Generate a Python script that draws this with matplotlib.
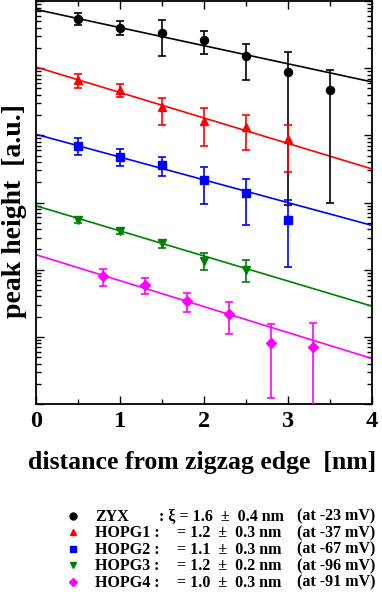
import numpy as np
import matplotlib
matplotlib.use("Agg")
import matplotlib.pyplot as plt
from matplotlib.ticker import LogLocator, NullFormatter, MultipleLocator

# ==========================
# Data
# ==========================

names = ["ZYX", "HOPG1", "HOPG2", "HOPG3", "HOPG4"]
colors = ["black", "red", "blue", "green", "magenta"]
markers = ["o", "^", "s", "v", "D"]

x_zyx = [0.5, 1.0, 1.5, 2.0, 2.5, 3.0, 3.5]
y_zyx = [53700, 40000, 33800, 25900, 15000, 8790, 4700]
hi_zyx = [65900, 49600, 52600, 35300, 23200, 17400, 9310]
lo_zyx = [43300, 30800, 15200, 16500, 6610, 92.5, 98]

x_h1 = [0.5, 1.0, 1.5, 2.0, 2.5, 3.0]
y_h1 = [6770, 4700, 2660, 1650, 1340, 867]
hi_h1 = [8120, 5910, 3610, 2515, 2000, 1420]
lo_h1 = [5150, 3740, 1420, 694, 605, 288]

x_h2 = [0.5, 1.0, 1.5, 2.0, 2.5, 3.0]
y_h2 = [701, 481, 363, 217, 138, 54.4]
hi_h2 = [903, 620, 481, 342, 222, 110]
lo_h2 = [510, 350, 249, 95.7, 46.7, 11.0]

x_h3 = [0.5, 1.0, 1.5, 2.0, 2.5]
y_h3 = [55.4, 38.0, 25.0, 13.6, 10.0]
hi_h3 = [60.3, 41.4, 27.5, 17.8, 14.1]
lo_h3 = [50.0, 34.3, 21.3, 9.8, 6.5]

x_h4 = [0.8, 1.3, 1.8, 2.3, 2.8, 3.3]
y_h4 = [7.98, 5.87, 3.40, 2.21, 0.82, 0.706]
hi_h4 = [10.3, 7.56, 4.42, 3.33, 1.53, 1.62]
lo_h4 = [5.67, 4.27, 2.33, 1.09, 0.121, 0.05]

# exponential fits, value at x=0 and x=4
fit_x = [0, 4]
fit_zyx = [74800, 6240]
fit_h1 = [10400, 316]
fit_h2 = [1035, 45.6]
fit_h3 = [89.3, 2.86]
fit_h4 = [16.7, 0.475]

legend_xi = [": \u03be = 1.6  \u00b1  0.4 nm", "= 1.2  \u00b1  0.3 nm", "= 1.1  \u00b1  0.3 nm",
             "= 1.2  \u00b1  0.2 nm", "= 1.0  \u00b1  0.3 nm"]
legend_bias = ["(at -23 mV)", "(at -37 mV)", "(at -67 mV)", "(at -96 mV)", "(at -91 mV)"]

series = [
    (x_zyx, y_zyx, hi_zyx, lo_zyx, fit_zyx),
    (x_h1, y_h1, hi_h1, lo_h1, fit_h1),
    (x_h2, y_h2, hi_h2, lo_h2, fit_h2),
    (x_h3, y_h3, hi_h3, lo_h3, fit_h3),
    (x_h4, y_h4, hi_h4, lo_h4, fit_h4),
]

# ==========================
# Plot
# ==========================

plt.rcParams['font.family'] = ['Liberation Serif', 'DejaVu Serif']
plt.rcParams['font.weight'] = 'bold'

fig = plt.figure(figsize=(3.82, 5.92), dpi=100)
ax = fig.add_axes([36 / 382, 1 - 404 / 592, 336 / 382, 403 / 592])

for (xs, ys, hi, lo, fit), c, m in zip(series, colors, markers):
    ys = np.array(ys)
    err = [ys - np.array(lo), np.array(hi) - ys]
    ms = 4.8 if m == "D" else 5.8
    ax.errorbar(xs, ys, yerr=err, fmt=m, color=c, ms=ms, elinewidth=1.2,
                capsize=3, capthick=1.2, zorder=3)
    ax.plot(fit_x, fit, color=c, lw=1.2, zorder=2)

ax.set_yscale("log")
ax.set_xlim(0, 4)
ax.set_ylim(0.1, 1e5)

ax.xaxis.set_major_locator(MultipleLocator(1))
ax.xaxis.set_minor_locator(MultipleLocator(0.5))
ax.yaxis.set_major_locator(LogLocator(base=10, numticks=20))
ax.yaxis.set_minor_locator(LogLocator(base=10, subs=np.arange(2, 10), numticks=20))
ax.yaxis.set_major_formatter(NullFormatter())
ax.yaxis.set_minor_formatter(NullFormatter())

ax.tick_params(which="both", direction="in", top=True, right=True, width=1.0)
ax.tick_params(which="major", length=6)
ax.tick_params(which="minor", length=3.5)
ax.tick_params(axis="x", which="major", labelsize=17.5, pad=5)
for lab in ax.get_xticklabels():
    lab.set_fontweight("bold")
for s in ax.spines.values():
    s.set_linewidth(1.3)

# axis titles placed as figure text
fig.text(202 / 382, 1 - 463 / 592, "distance from zigzag edge  [nm]",
         fontsize=18.5, fontweight="bold", ha="center", va="center")
fig.text(15 / 382, 1 - 211 / 592, "peak height  [a.u.]", rotation=90,
         fontsize=20, fontweight="bold", ha="center", va="center")

# ==========================
# Legend block
# ==========================

lax = fig.add_axes([0, 0, 1, 1 - 500 / 592])
lax.set_xlim(0, 382)
lax.set_ylim(92, 0)
lax.axis("off")

row_y = [16.7, 33.2, 49.7, 66.2, 82.7]
for i in range(len(names)):
    yy = row_y[i]
    lax.plot([73], [yy - 1], marker=markers[i], color=colors[i],
             ms=4.2 if markers[i] == "D" else 5, ls="none")
    lbl = names[i] if i == 0 else names[i] + " :"
    lax.text(95, yy, lbl, fontsize=11.5, fontweight="bold", va="center", ha="left")
    if i == 0:
        lax.text(159, yy, legend_xi[i], fontsize=11.5, fontweight="bold", va="center", ha="left")
    else:
        lax.text(177, yy, legend_xi[i], fontsize=11.5, fontweight="bold", va="center", ha="left")
    lax.text(297, yy, legend_bias[i], fontsize=11.5, fontweight="bold", va="center", ha="left")

fig.savefig("out.png", dpi=100)
